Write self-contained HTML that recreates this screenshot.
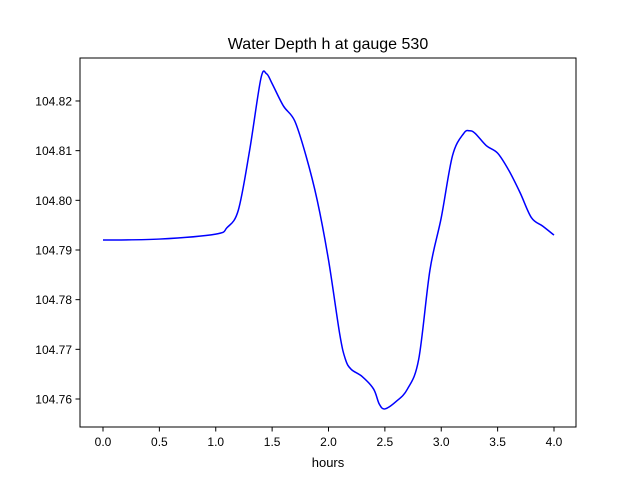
<!DOCTYPE html>
<html><head><meta charset="utf-8"><style>
body{margin:0;background:#fff;}
svg text{font-family:"Liberation Sans","DejaVu Sans",sans-serif;fill:#000;}
</style></head><body>
<svg id="chart" width="640" height="480" xmlns="http://www.w3.org/2000/svg">
<rect width="640" height="480" fill="#fff"/>
<text x="328" y="49" font-size="16" text-anchor="middle">Water Depth h at gauge 530</text>
<g id="xticks"></g>
<g id="yticks"></g>
<path id="line" fill="none" stroke="#0000ff" stroke-width="1.5"/>
<rect x="80" y="58" width="496" height="369" fill="none" stroke="#000" stroke-width="1"/>
<text x="328" y="467" font-size="13" text-anchor="middle">hours</text>
</svg>
<script>
const times=[0,0.5,1.0,1.1,1.2,1.3,1.4,1.45,1.5,1.6,1.7,1.8,1.9,2.0,2.1,2.15,2.2,2.3,2.4,2.45,2.5,2.6,2.7,2.8,2.9,3.0,3.1,3.2,3.25,3.3,3.4,3.5,3.6,3.7,3.8,3.9,4.0];
const depths=[104.792,104.7922,104.7932,104.7945,104.798,104.810,104.8245,104.8255,104.8235,104.819,104.816,104.809,104.800,104.788,104.773,104.768,104.766,104.7645,104.762,104.759,104.758,104.7595,104.762,104.768,104.786,104.7965,104.809,104.8135,104.814,104.8135,104.811,104.8095,104.806,104.8015,104.7965,104.7948,104.793];
const xTicks=[0,0.5,1,1.5,2,2.5,3,3.5,4];
const xTickLabels=["0.0","0.5","1.0","1.5","2.0","2.5","3.0","3.5","4.0"];
const yTicks=[104.76,104.77,104.78,104.79,104.80,104.81,104.82];
const yTickLabels=["104.76","104.77","104.78","104.79","104.80","104.81","104.82"];
const X=t=>103+t*112.75;
const Y=v=>399-(v-104.76)*4967;
const ns="http://www.w3.org/2000/svg";
const xg=document.getElementById('xticks'),yg=document.getElementById('yticks');
xTicks.forEach((t,i)=>{
 const l=document.createElementNS(ns,'line');
 l.setAttribute('x1',X(t));l.setAttribute('x2',X(t));l.setAttribute('y1',427);l.setAttribute('y2',431.5);l.setAttribute('stroke','#000');
 
 
 xg.appendChild(l);
 const tx=document.createElementNS(ns,'text');
 tx.setAttribute('x',X(t));tx.setAttribute('y',446);tx.setAttribute('font-size','12');tx.setAttribute('text-anchor','middle');
 tx.textContent=xTickLabels[i];
 
 
 xg.appendChild(tx);
});
yTicks.forEach((v,i)=>{
 const l=document.createElementNS(ns,'line');
 l.setAttribute('x1',75.5);l.setAttribute('x2',80);l.setAttribute('y1',Y(v));l.setAttribute('y2',Y(v));l.setAttribute('stroke','#000');
 
 
 yg.appendChild(l);
 const tx=document.createElementNS(ns,'text');
 tx.setAttribute('x',72);tx.setAttribute('y',Y(v)+4.5);tx.setAttribute('font-size','12');tx.setAttribute('text-anchor','end');
 tx.textContent=yTickLabels[i];
 
 
 yg.appendChild(tx);
});
// Catmull-Rom smooth path
const pts=times.map((t,i)=>[X(t),Y(depths[i])]);
let d='M'+pts[0][0]+','+pts[0][1];
for(let i=0;i<pts.length-1;i++){
 const p0=pts[Math.max(0,i-1)],p1=pts[i],p2=pts[i+1],p3=pts[Math.min(pts.length-1,i+2)];
 const c1=[p1[0]+(p2[0]-p0[0])/6,p1[1]+(p2[1]-p0[1])/6];
 const c2=[p2[0]-(p3[0]-p1[0])/6,p2[1]-(p3[1]-p1[1])/6];
 d+=' C'+c1[0]+','+c1[1]+' '+c2[0]+','+c2[1]+' '+p2[0]+','+p2[1];
}
document.getElementById('line').setAttribute('d',d);
</script>
</body></html>
